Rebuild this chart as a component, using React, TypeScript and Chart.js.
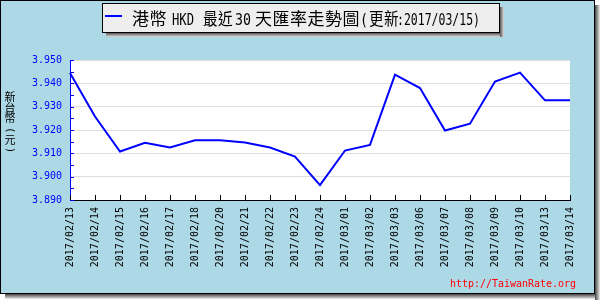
import React, { useEffect, useRef } from "react";
import { Chart, registerables } from "chart.js";

Chart.register(...registerables);

// ---- data ----
const categories = [
  "2017/02/13", "2017/02/14", "2017/02/15", "2017/02/16", "2017/02/17",
  "2017/02/18", "2017/02/20", "2017/02/21", "2017/02/22", "2017/02/23",
  "2017/02/24", "2017/03/01", "2017/03/02", "2017/03/03", "2017/03/06",
  "2017/03/07", "2017/03/08", "2017/03/09", "2017/03/10", "2017/03/13",
  "2017/03/14",
];
const rates = [
  3.9444, 3.9258, 3.9108, 3.9145, 3.9125,
  3.9156, 3.9156, 3.9146, 3.9125, 3.9086,
  3.8964, 3.9112, 3.9136, 3.9437, 3.9380,
  3.9198, 3.9227, 3.9408, 3.9446, 3.9327,
  3.9327,
];
const yMin = 3.89;
const yMax = 3.95;
const yStep = 0.005;
const seriesName = "港幣 HKD";
const titlePieces = [
  { text: "港幣", cjk: true },
  { text: "HKD", cjk: false },
  { text: "最近", cjk: true },
  { text: "30", cjk: false },
  { text: "天匯率走勢圖", cjk: true },
  { text: "(", cjk: false },
  { text: "更新", cjk: true },
  { text: ":2017/03/15)", cjk: false },
];
const yTitleChars = ["新", "台", "幣", "(", "元", ")"];
const watermark = "http://TaiwanRate.org";

// layout for title pieces (x start, max width)
const titleLayout = [
  [132, 36], [172, 22], [203, 30], [235, 16], [255, 108], [360, 8], [369, 30], [397, 83],
];
const yTitleY = [96.5, 107.5, 118, 130.5, 140, 150];

const MONO = "'DejaVu Sans Mono', monospace";
const CJK = "'Noto Sans CJK TC', 'Noto Sans CJK SC', sans-serif";

const framePlugin = {
  id: "framePlugin",
  beforeDraw(chart: any) {
    const ctx = chart.ctx;
    const ca = chart.chartArea;
    ctx.save();
    const shades = ["#555555", "#777777", "#999999", "#bbbbbb", "#dddddd"];
    shades.forEach((c, i) => {
      ctx.fillStyle = c;
      ctx.fillRect(595 + i, 5, 1, 295);
      ctx.fillRect(5, 294 + i, 590, 1);
    });
    ctx.fillStyle = "#ADD8E6";
    ctx.fillRect(0, 0, 595, 294);
    ctx.strokeStyle = "#000000";
    ctx.lineWidth = 1;
    ctx.strokeRect(0.5, 0.5, 594, 293);
    ctx.fillStyle = "#ffffff";
    ctx.fillRect(ca.left, ca.top, ca.right - ca.left, ca.bottom - ca.top);
    ctx.restore();
  },
  beforeDatasetsDraw(chart: any) {
    const ctx = chart.ctx;
    const ca = chart.chartArea;
    const xs = chart.scales.x;
    const ys = chart.scales.y;
    ctx.save();
    ctx.lineWidth = 1;
    ctx.strokeStyle = "#0000ff";
    for (let v = yMin; v <= yMax + 1e-9; v += yStep) {
      const py = Math.round(ys.getPixelForValue(v)) + 0.5;
      ctx.beginPath();
      ctx.moveTo(ca.left, py);
      ctx.lineTo(ca.left + 4, py);
      ctx.stroke();
    }
    ctx.strokeStyle = "#000000";
    for (let i = 0; i < categories.length; i++) {
      const px = Math.round(xs.getPixelForValue(i)) + 0.5;
      ctx.beginPath();
      ctx.moveTo(px, ca.bottom);
      ctx.lineTo(px, ca.bottom - 5);
      ctx.stroke();
    }
    ctx.restore();
  },
  afterDraw(chart: any) {
    const ctx = chart.ctx;
    ctx.save();
    const shades = ["#666666", "#888888", "#aaaaaa", "#cccccc"];
    shades.forEach((c, i) => {
      ctx.fillStyle = c;
      ctx.fillRect(500 + i, 7, 1, 30);
      ctx.fillRect(106, 33 + i, 394, 1);
    });
    ctx.fillStyle = "#eeeeee";
    ctx.fillRect(102, 3, 397, 29);
    ctx.strokeStyle = "#000000";
    ctx.lineWidth = 1;
    ctx.strokeRect(102.5, 3.5, 397, 29);
    ctx.fillStyle = "#0000ff";
    ctx.fillRect(105, 15, 17, 2);
    ctx.fillStyle = "#000000";
    ctx.textBaseline = "alphabetic";
    ctx.textAlign = "left";
    titlePieces.forEach((p, i) => {
      ctx.font = p.cjk ? `17px ${CJK}` : `16px ${MONO}`;
      (ctx as any).letterSpacing = p.cjk ? "0.5px" : "0px";
      const [x, w] = titleLayout[i];
      ctx.fillText(p.text, x, 24.5, w);
    });
    (ctx as any).letterSpacing = "0px";
    ctx.textAlign = "center";
    ctx.textBaseline = "middle";
    yTitleChars.forEach((c, i) => {
      const y = yTitleY[i];
      if (c === "(" || c === ")") {
        ctx.save();
        ctx.translate(10, y);
        ctx.rotate(Math.PI / 2);
        ctx.font = `11px 'DejaVu Sans', sans-serif`;
        ctx.fillText(c, 0, 0);
        ctx.restore();
      } else {
        ctx.font = `11px ${CJK}`;
        ctx.fillText(c, 10, y);
      }
    });
    ctx.fillStyle = "#ff0000";
    ctx.font = `10px ${MONO}`;
    ctx.textAlign = "left";
    ctx.textBaseline = "alphabetic";
    ctx.fillText(watermark, 450, 287, 126);
    ctx.restore();
  },
};

export default function App() {
  const ref = useRef<HTMLCanvasElement | null>(null);
  useEffect(() => {
    if (!ref.current) return;
    const chart = new Chart(ref.current, {
      type: "line",
      data: {
        labels: categories,
        datasets: [
          {
            label: seriesName,
            data: rates,
            borderColor: "#0000ff",
            borderWidth: 2,
            pointRadius: 0,
            tension: 0,
            fill: false,
          },
        ],
      },
      options: {
        responsive: false,
        animation: false,
        layout: { padding: { left: 0, top: 60, right: 30, bottom: 0 } },
        plugins: { legend: { display: false }, tooltip: { enabled: false }, title: { display: false } },
        scales: {
          x: {
            type: "category",
            offset: false,
            grid: { display: false, drawTicks: false },
            border: { display: true, color: "#000000", width: 1 },
            ticks: {
              autoSkip: false,
              maxRotation: 90,
              minRotation: 90,
              padding: 7,
              color: "#000000",
              font: { family: MONO, size: 10 },
            },
            afterFit: (s: any) => {
              s.height = 100;
            },
          },
          y: {
            min: yMin,
            max: yMax,
            grid: { color: "#dddddd", drawTicks: false },
            border: { display: true, color: "#0000ff", width: 1 },
            ticks: {
              stepSize: yStep,
              padding: 8,
              color: "#0000ff",
              font: { family: MONO, size: 10 },
              callback: (v: any) => (Math.round(Number(v) * 200) % 2 === 0 ? Number(v).toFixed(3) : ""),
            },
            afterFit: (s: any) => {
              s.width = 70;
            },
          },
        },
      },
      plugins: [framePlugin],
    });
    return () => chart.destroy();
  }, []);
  return (
    <div style={{ position: "absolute", left: 0, top: 0, width: 600, height: 300 }}>
      <canvas ref={ref} width={600} height={300} style={{ display: "block" }} />
    </div>
  );
}
